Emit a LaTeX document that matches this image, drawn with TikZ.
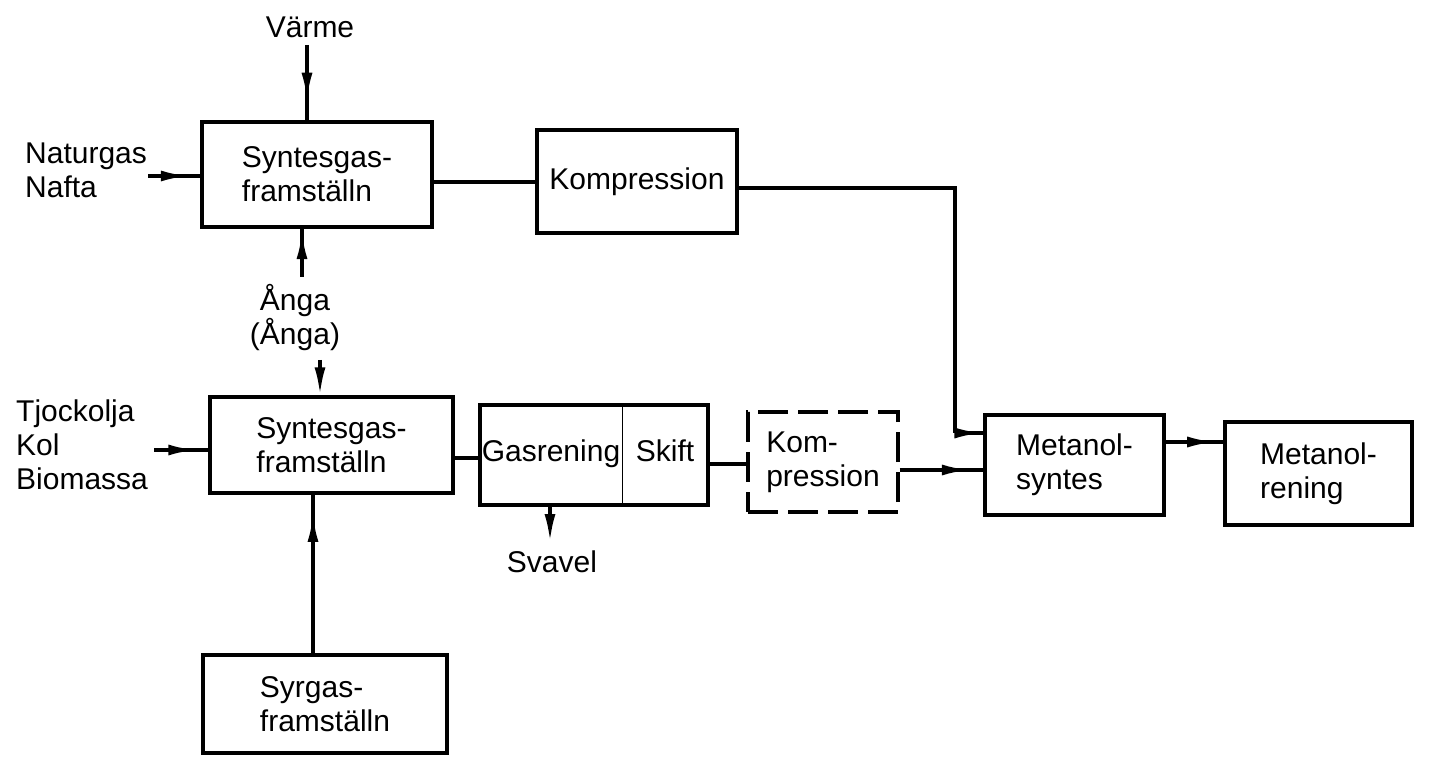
\documentclass[tikz,border=0pt]{standalone}
\usepackage{fontspec}
\setmainfont{Liberation Sans}
\usetikzlibrary{arrows.meta,decorations.markings,calc}
\newcommand\lab{\fontsize{30}{34}\selectfont}
\begin{document}
\begin{tikzpicture}[x=1pt,y=-1pt,
  line/.style={line width=3.4pt},
  flow/.style={line, postaction={decorate}, decoration={markings, mark=at position #1 with {\arrow{Latex[length=28pt,width=11pt]}}}},
  flowend/.style={line, -{Latex[length=28pt,width=11pt]}},
  box/.style={draw, line width=3.4pt, inner sep=0pt, align=left, font=\lab},
  lbl/.style={inner sep=0pt, align=left, font=\lab}]
\useasboundingbox[fill=white] (0,0) rectangle (1444,759);

% boxes
\node[box, minimum width=230pt, minimum height=105pt] (b1) at (317,174.5) {Syntesgas-\\framställn};
\node[box, minimum width=200pt, minimum height=103pt] (k1) at (637,181.5) {Kompression};
\node[box, minimum width=243pt, minimum height=96pt] (b2) at (331.5,445) {Syntesgas-\\framställn};
\node[box, minimum width=244pt, minimum height=98pt] (sy) at (325,704) {Syrgas-\\framställn};
\node[box, minimum width=228pt, minimum height=100pt] (gs) at (594,455) {};
\draw[line width=1.5pt] ($(gs.north west)!0.623!(gs.north east)$) -- ($(gs.south west)!0.623!(gs.south east)$);
\node[lbl, anchor=base] (tg) at (551,461) {Gasrening};
\node[lbl, anchor=base] (ts2) at (665,461) {Skift};
\node[box, dash pattern=on 30pt off 10pt, minimum width=150pt, minimum height=100pt] (dk) at (823,462) {Kom-\\pression};
\node[box, minimum width=179pt, minimum height=100pt] (ms) at (1074.5,465) {Metanol-\\syntes};
\node[box, minimum width=187pt, minimum height=103pt] (mr) at (1318.5,473.5) {Metanol-\\rening};

% labels
\node[lbl] (vm) at (310,27) {Värme};
\node[lbl, anchor=west] (ng) at (25,170) {Naturgas\\Nafta};
\node[lbl, align=center] (an) at (295,318) {Ånga\\(Ånga)};
\node[lbl, anchor=west] (tk) at (16,445) {Tjockolja\\Kol\\Biomassa};
\node[lbl] (svt) at (552,562) {Svavel};

% coordinates
\coordinate (vs) at (307,45);
\coordinate (ns) at (148,176);
\coordinate (a1) at (302,277);
\coordinate (a2) at (320,360);
\coordinate (tsc) at (154,450);
\coordinate (sx) at (313,655);
\coordinate (sv) at (550,542);
\coordinate (l0) at (0,182);
\coordinate (k1o) at (0,188);
\coordinate (j) at (955,433);
\coordinate (l1) at (0,458);
\coordinate (l2) at (0,464);
\coordinate (l3) at (0,470);
\coordinate (l4) at (0,442);

% connectors
\draw[flow=0.74] (vs) -- (vs |- b1.north);
\draw[flow=0.78] (ns) -- (ns -| b1.west);
\draw[flow=0.95] (a1) -- (a1 |- b1.south);
\draw[flowend] (a2) -- (a2 |- b2.north);
\draw[flow=0.78] (tsc) -- (tsc -| b2.west);
\draw[flow=0.88] (sx) -- (sx |- b2.south);
\draw[line] (b1.east |- l0) -- (k1.west |- l0);
\draw[line] (k1.east |- k1o) -| (j);
\draw[flow=0.97] (j) -- (ms.west |- j);
\draw[line] (b2.east |- l1) -- (gs.west |- l1);
\draw[line] (gs.east |- l2) -- (dk.west |- l2);
\draw[flow=0.84] (dk.east |- l3) -- (ms.west |- l3);
\draw[flowend] (gs.south -| sv) -- (sv);
\draw[flow=0.86] (ms.east |- l4) -- (mr.west |- l4);
\end{tikzpicture}
\end{document}
